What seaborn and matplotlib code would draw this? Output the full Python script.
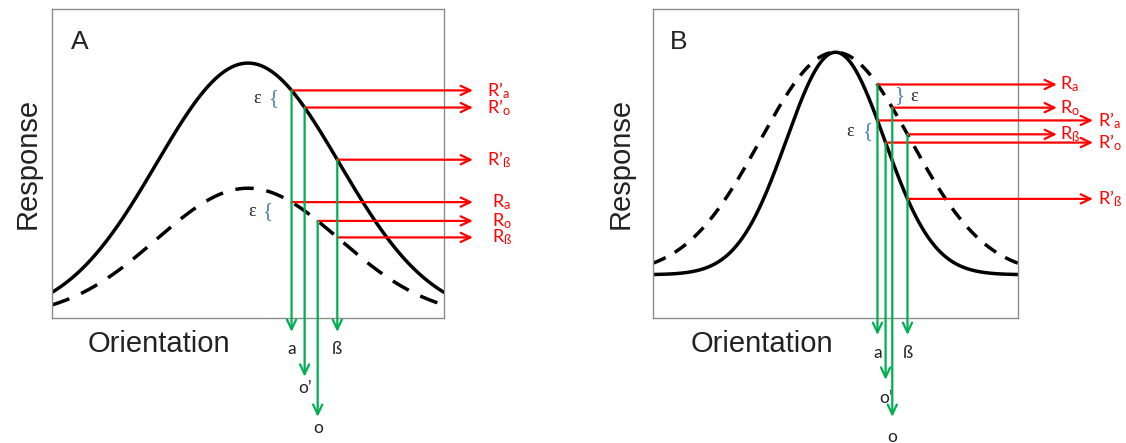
import numpy as np
import pandas as pd
import matplotlib
matplotlib.use("Agg")
import matplotlib.pyplot as plt
import seaborn as sns

# ---------------------------------------------------------------------------
# Gaussian tuning curves: peak height, width (deg) and baseline per condition
# (orientation in degrees, response as a fraction of the frame height)
# ---------------------------------------------------------------------------
curve_names = ["solid", "dashed"]

gain_peak = [0.825, 0.42]      # panel A: gain change
gain_width = [42.0, 42.0]
gain_base = [0.0, 0.0]

tune_peak = [0.72, 0.72]       # panel B: tuning-width change
tune_width = [24.2, 37.0]
tune_base = [0.14, 0.14]

# probe orientations a, o', o, ß
probe_names = ["a", "o’", "o", "ß"]
gain_probes = [20.0, 26.0, 32.0, 41.0]
tune_probes = [20.7, 24.7, 28.0, 35.5]

# read-out arrows: label, curve, probe
readouts = [
    ("R’", "a", "solid", "a"),
    ("R’", "o", "solid", "o’"),
    ("R’", "ß", "solid", "ß"),
    ("R", "a", "dashed", "a"),
    ("R", "o", "dashed", "o"),
    ("R", "ß", "dashed", "ß"),
]

RED = "#ff0000"
GREEN = "#00b050"
BLUE = "#4f81bd"
INK = "#222222"

sns.set_style("white")
plt.rcParams["font.family"] = ["Liberation Sans", "DejaVu Sans"]
plt.rcParams["mathtext.fontset"] = "custom"
plt.rcParams["mathtext.rm"] = "Lato"
plt.rcParams["mathtext.it"] = "Lato:italic"


def tuning(theta, peak, width, base):
    return base + peak * np.exp(-theta ** 2 / (2 * width ** 2))


fig = plt.figure(figsize=(11.26, 4.43), dpi=100)
W, H = 1126, 443


def panel_axes(left_px, right_px, top_px=9, bottom_px=318):
    return fig.add_axes([left_px / W, (H - bottom_px) / H,
                         (right_px - left_px) / W, (bottom_px - top_px) / H])


def arrow(ax, x0, y0, x1, y1, color):
    ax.annotate("", xy=(x1, y1), xytext=(x0, y0),
                arrowprops=dict(arrowstyle="->,head_length=0.7,head_width=0.33",
                                color=color, lw=1.6, shrinkA=0, shrinkB=0),
                annotation_clip=False)


def draw_panel(ax, letter, peaks, widths, bases, probes, dash,
               tip_x, label_x, green_tip, green_lab, braces, ylab_x, xlab_x):
    theta = np.linspace(-90, 90, 721)
    frames = []
    for name, p, w, b in zip(curve_names, peaks, widths, bases):
        frames.append(pd.DataFrame({"orientation": theta,
                                    "response": tuning(theta, p, w, b),
                                    "curve": name}))
    df = pd.concat(frames, ignore_index=True)
    sns.lineplot(data=df, x="orientation", y="response", style="curve",
                 dashes={"solid": "", "dashed": dash}, color="black",
                 lw=2.5, legend=False, ax=ax, sort=False)

    params = {n: (p, w, b) for n, p, w, b in zip(curve_names, peaks, widths, bases)}
    probe_x = dict(zip(probe_names, probes))

    # horizontal read-out arrows from the curves
    tops = {}
    heights = {}
    for prefix, sub, curve, probe in readouts:
        x = probe_x[probe]
        y = tuning(x, *params[curve])
        heights[(prefix, sub)] = y
        tops[probe] = max(tops.get(probe, -1), y)
        arrow(ax, x, y, tip_x[prefix], y, RED)
        ax.text(label_x[prefix], y, rf"$\mathrm{{{prefix}_{{{sub}}}}}$",
                color=RED, fontsize=13, ha="left", va="center")

    # vertical arrows down to the orientation axis
    for probe in probe_names:
        x = probe_x[probe]
        arrow(ax, x, tops[probe], x, green_tip[probe], GREEN)
        ax.text(x, green_lab[probe], probe, family=["Lato", "DejaVu Sans"],
                fontsize=12.5, color=INK, ha="center", va="center")

    # epsilon brackets
    for pair, bx, ex, glyph in braces:
        ym = 0.5 * (heights[pair[0]] + heights[pair[1]])
        ax.text(bx, ym, glyph, family=["Liberation Serif", "DejaVu Serif"],
                fontsize=15, color=BLUE, ha="center", va="center")
        ax.text(ex, ym, "ε", family=["Liberation Serif", "DejaVu Serif"],
                fontsize=13, color=INK, ha="center", va="center")

    ax.set_xlim(-90, 90)
    ax.set_ylim(0, 1)
    ax.set_xticks([])
    ax.set_yticks([])
    ax.set_xlabel("")
    ax.set_ylabel("")
    for s in ax.spines.values():
        s.set_color("#8c8c8c")
        s.set_linewidth(1.0)
        s.set_visible(True)

    ax.text(0.071, 0.893, letter, transform=ax.transAxes, fontsize=19,
            color=INK, ha="center", va="center")
    ax.text(ylab_x, 0.5, "Response", transform=ax.transAxes, rotation=90,
            fontsize=21, color=INK, ha="center", va="center")
    ax.text(xlab_x, -0.084, "Orientation", transform=ax.transAxes,
            fontsize=21, color=INK, ha="center", va="center")


ax_a = panel_axes(52, 444)
draw_panel(
    ax_a, "A", gain_peak, gain_width, gain_base, gain_probes, (5.3, 3.7),
    tip_x={"R’": 103.3, "R": 103.3},
    label_x={"R’": 109.7, "R": 112.0},
    green_tip={"a": -0.045, "o’": -0.19, "o": -0.32, "ß": -0.045},
    green_lab={"a": -0.10, "o’": -0.227, "o": -0.355, "ß": -0.10},
    braces=[((("R’", "a"), ("R’", "o")), 11.5, 4.1, "{"),
            ((("R", "a"), ("R", "o")), 8.7, 1.8, "{")],
    ylab_x=-0.061, xlab_x=0.273,
)

ax_b = panel_axes(653, 1018)
draw_panel(
    ax_b, "B", tune_peak, tune_width, tune_base, tune_probes, (4.0, 3.0),
    tip_x={"R’": 127.0, "R": 109.2},
    label_x={"R’": 129.5, "R": 110.7},
    green_tip={"a": -0.055, "o’": -0.20, "o": -0.32, "ß": -0.055},
    green_lab={"a": -0.113, "o’": -0.259, "o": -0.385, "ß": -0.113},
    braces=[((("R", "a"), ("R", "o")), 31.3, 38.5, "}"),
            ((("R’", "a"), ("R’", "o")), 15.5, 7.2, "{")],
    ylab_x=-0.088, xlab_x=0.299,
)

fig.savefig("out.png", dpi=100)
